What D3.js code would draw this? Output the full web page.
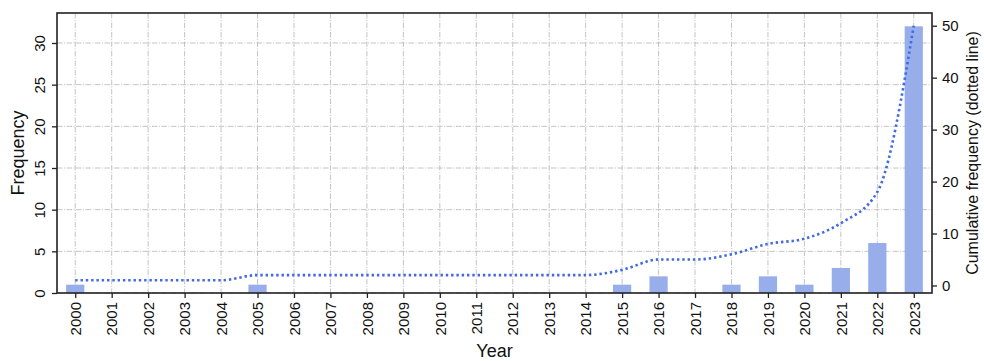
<!DOCTYPE html>
<html>
<head>
<meta charset="utf-8">
<script src="https://cdn.jsdelivr.net/npm/d3@7"></script>
<style>
  body { margin: 0; background: #fff; }
  svg { display: block; font-family: "Liberation Sans", Arial, sans-serif; }
  .grid line { stroke: #bdbdbd; stroke-width: 0.9; stroke-dasharray: 5.5,1.5,1,1.5; }
</style>
</head>
<body>
<div id="chart"></div>
<script>
const years = d3.range(2000, 2024).map(String);
const frequency = [1, 0, 0, 0, 0, 1, 0, 0, 0, 0, 0, 0, 0, 0, 0, 1, 2, 0, 1, 2, 1, 3, 6, 32];
const cumulative = [1, 1, 1, 1, 1, 2, 2, 2, 2, 2, 2, 2, 2, 2, 2, 3, 5, 5, 6, 8, 9, 12, 18, 50];
const leftTicks = [0, 5, 10, 15, 20, 25, 30];
const rightTicks = [0, 10, 20, 30, 40, 50];

const width = 984, height = 361;
const plot = { left: 57, right: 932, top: 13, bottom: 293 };

const svg = d3.select('#chart').append('svg')
    .attr('width', width)
    .attr('height', height);

const x = d3.scaleLinear().domain([-0.5, years.length - 0.5]).range([plot.left, plot.right]);
const yLeft = d3.scaleLinear().domain([0, 33.6]).range([plot.bottom, plot.top]);
const yRight = d3.scaleLinear().domain([-1.45, 52.45]).range([plot.bottom, plot.top]);

// grid
const grid = svg.append('g').attr('class', 'grid');
grid.selectAll('.vg').data(years).enter().append('line')
    .attr('x1', (d, i) => x(i)).attr('x2', (d, i) => x(i))
    .attr('y1', plot.top).attr('y2', plot.bottom);
grid.selectAll('.hg').data(leftTicks).enter().append('line')
    .attr('x1', plot.left).attr('x2', plot.right)
    .attr('y1', d => yLeft(d)).attr('y2', d => yLeft(d));

// bars
const barW = x(0.25) - x(-0.25);
svg.append('g').selectAll('rect').data(frequency).enter().append('rect')
    .attr('x', (d, i) => x(i) - barW / 2)
    .attr('y', d => yLeft(d))
    .attr('width', barW)
    .attr('height', d => yLeft(0) - yLeft(d))
    .attr('fill', '#98aeeb');

// cumulative line
const line = d3.line()
    .x((d, i) => x(i))
    .y(d => yRight(d))
    .curve(d3.curveMonotoneX);

svg.append('path')
    .datum(cumulative)
    .attr('d', line)
    .attr('fill', 'none')
    .attr('stroke', '#4169e1')
    .attr('stroke-width', 2.6)
    .attr('stroke-dasharray', '2.4,2.9');

// frame
svg.append('rect')
    .attr('x', plot.left).attr('y', plot.top)
    .attr('width', plot.right - plot.left)
    .attr('height', plot.bottom - plot.top)
    .attr('fill', 'none')
    .attr('stroke', '#222')
    .attr('stroke-width', 1.6);

// x axis
const xAxis = svg.append('g')
    .attr('transform', `translate(0,${plot.bottom})`)
    .call(d3.axisBottom(x).tickValues(d3.range(years.length)).tickFormat(i => years[i]).tickSize(5).tickSizeOuter(0));
xAxis.select('.domain').remove();
xAxis.selectAll('.tick line').attr('stroke', '#222').attr('stroke-width', 1.3);
xAxis.selectAll('.tick text')
    .attr('font-size', 15)
    .attr('fill', '#111')
    .attr('transform', 'rotate(-90)')
    .attr('text-anchor', 'end')
    .attr('x', -9)
    .attr('y', 0)
    .attr('dy', '0.35em');

// left axis
const leftAxis = svg.append('g')
    .attr('transform', `translate(${plot.left},0)`)
    .call(d3.axisLeft(yLeft).tickValues(leftTicks).tickSize(5).tickSizeOuter(0));
leftAxis.select('.domain').remove();
leftAxis.selectAll('.tick line').attr('stroke', '#222').attr('stroke-width', 1.3);
leftAxis.selectAll('.tick text')
    .attr('font-size', 15)
    .attr('fill', '#111')
    .attr('transform', 'rotate(-90)')
    .attr('text-anchor', 'middle')
    .attr('x', 0)
    .attr('y', -12)
    .attr('dy', 0);

// right axis
const rightAxis = svg.append('g')
    .attr('transform', `translate(${plot.right},0)`)
    .call(d3.axisRight(yRight).tickValues(rightTicks).tickSize(5).tickSizeOuter(0));
rightAxis.select('.domain').remove();
rightAxis.selectAll('.tick line').attr('stroke', '#222').attr('stroke-width', 1.3);
rightAxis.selectAll('.tick text')
    .attr('font-size', 15)
    .attr('fill', '#111')
    .attr('x', 10);

// axis titles
svg.append('text')
    .attr('transform', `translate(24,${(plot.top + plot.bottom) / 2}) rotate(-90)`)
    .attr('text-anchor', 'middle')
    .attr('font-size', 18)
    .attr('fill', '#111')
    .text('Frequency');

svg.append('text')
    .attr('x', (plot.left + plot.right) / 2)
    .attr('y', 357)
    .attr('text-anchor', 'middle')
    .attr('font-size', 18)
    .attr('fill', '#111')
    .text('Year');

svg.append('text')
    .attr('transform', `translate(978,${(plot.top + plot.bottom) / 2}) rotate(-90)`)
    .attr('text-anchor', 'middle')
    .attr('font-size', 16)
    .attr('fill', '#111')
    .text('Cumulative frequency (dotted line)');
</script>
</body>
</html>
